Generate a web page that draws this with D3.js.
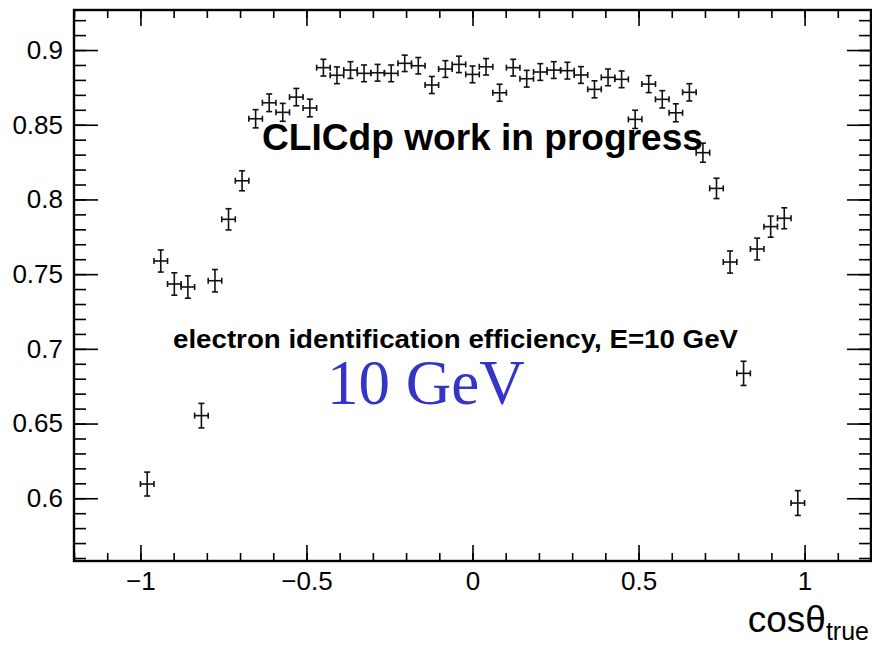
<!DOCTYPE html>
<html>
<head>
<meta charset="utf-8">
<script src="https://cdn.jsdelivr.net/npm/d3@7"></script>
<style>
  body { margin: 0; background: #fff; }
  svg { display: block; }
</style>
</head>
<body>
<div id="graph"></div>
<script>
let W = 872, H = 648;
let margin = { left: 74, top: 10, right: 1, bottom: 87 };

// binning: 49 bins in cos(theta) from -1 to 1
let xMin = -1, xMax = 1, nBins = 49;
// efficiency per bin
let eff = [0.6095, 0.7588, 0.7434, 0.7414, 0.6553, 0.7456, 0.7867, 0.8125, 0.854, 0.8647,
  0.8583, 0.8685, 0.8612, 0.8882, 0.8831, 0.8866, 0.8844, 0.8848, 0.8844, 0.8911,
  0.8895, 0.8766, 0.8873, 0.8904, 0.8837, 0.8888, 0.8714, 0.8882, 0.8808, 0.8853,
  0.8866, 0.8862, 0.8833, 0.8737, 0.8817, 0.8804, 0.8536, 0.8772, 0.867, 0.858,
  0.8717, 0.8313, 0.8074, 0.7581, 0.6836, 0.7668, 0.7818, 0.7874, 0.5968];
let effErr = [0.0080, 0.0074, 0.0075, 0.0075, 0.0082, 0.0075, 0.0071, 0.0067, 0.0061, 0.0059,
  0.0060, 0.0058, 0.0059, 0.0056, 0.0056, 0.0056, 0.0056, 0.0056, 0.0056, 0.0055,
  0.0055, 0.0057, 0.0056, 0.0055, 0.0056, 0.0055, 0.0057, 0.0056, 0.0056, 0.0056,
  0.0056, 0.0056, 0.0056, 0.0057, 0.0056, 0.0056, 0.0061, 0.0057, 0.0058, 0.0060,
  0.0058, 0.0064, 0.0068, 0.0074, 0.0081, 0.0073, 0.0071, 0.0070, 0.0083];

let xTicks = [-1, -0.5, 0, 0.5, 1];
let xTickLabels = ["\u22121", "\u22120.5", "0", "0.5", "1"];
let yTicks = [0.6, 0.65, 0.7, 0.75, 0.8, 0.85, 0.9];
let yTickLabels = ["0.6", "0.65", "0.7", "0.75", "0.8", "0.85", "0.9"];

let binW = (xMax - xMin) / nBins;
let data = eff.map(function(d, i) {
  return { c: xMin + (i + 0.5) * binW, v: d, e: effErr[i] };
});

let svg = d3.select("#graph").append("svg")
  .attr("width", W).attr("height", H);

let x = d3.scaleLinear().domain([-1.2, 1.2]).range([margin.left, W - margin.right]);
let y = d3.scaleLinear().domain([0.558, 0.9268]).range([H - margin.bottom, margin.top]);

let fontS = "Liberation Sans, Arial, Helvetica, sans-serif";
let x0 = x.range()[0], x1 = x.range()[1], y0 = y.range()[0], y1 = y.range()[1];

// minor ticks
let xMinor = d3.range(-1.2, 1.2001, 0.1);
let yMinor = d3.range(0.56, 0.9201, 0.01);

function styleAxis(g) {
  g.select(".domain").remove();
  g.selectAll(".tick line").attr("stroke", "#000").attr("stroke-width", 1.6);
}

// bottom
svg.append("g").attr("transform", "translate(0," + y0 + ")")
  .call(d3.axisBottom(x).tickValues(xMinor).tickSize(-8).tickFormat(""))
  .call(styleAxis);
svg.append("g").attr("transform", "translate(0," + y0 + ")")
  .call(d3.axisBottom(x).tickValues(xTicks).tickSize(-16).tickPadding(11)
    .tickFormat(function(d, i) { return xTickLabels[i]; }))
  .call(styleAxis)
  .selectAll("text").attr("font-family", fontS).attr("font-size", 26).attr("fill", "#000");
// top
svg.append("g").attr("transform", "translate(0," + y1 + ")")
  .call(d3.axisTop(x).tickValues(xMinor).tickSize(-8).tickFormat(""))
  .call(styleAxis);
svg.append("g").attr("transform", "translate(0," + y1 + ")")
  .call(d3.axisTop(x).tickValues(xTicks).tickSize(-16).tickFormat(""))
  .call(styleAxis);
// left
svg.append("g").attr("transform", "translate(" + x0 + ",0)")
  .call(d3.axisLeft(y).tickValues(yMinor).tickSize(-12).tickFormat(""))
  .call(styleAxis);
svg.append("g").attr("transform", "translate(" + x0 + ",0)")
  .call(d3.axisLeft(y).tickValues(yTicks).tickSize(-24).tickPadding(11)
    .tickFormat(function(d, i) { return yTickLabels[i]; }))
  .call(styleAxis)
  .selectAll("text").attr("font-family", fontS).attr("font-size", 26).attr("fill", "#000");
// right
svg.append("g").attr("transform", "translate(" + x1 + ",0)")
  .call(d3.axisRight(y).tickValues(yMinor).tickSize(-12).tickFormat(""))
  .call(styleAxis);
svg.append("g").attr("transform", "translate(" + x1 + ",0)")
  .call(d3.axisRight(y).tickValues(yTicks).tickSize(-24).tickFormat(""))
  .call(styleAxis);

// frame
svg.append("rect")
  .attr("x", x0).attr("y", y1)
  .attr("width", x1 - x0).attr("height", y0 - y1)
  .attr("fill", "none").attr("stroke", "#000").attr("stroke-width", 2.4);

// error-bar markers
let cap = 3;
let pts = svg.append("g").attr("stroke", "#111").attr("stroke-width", 1.6).attr("fill", "none");
let pt = pts.selectAll("g").data(data).enter().append("g");
pt.append("line")
  .attr("x1", function(d) { return x(d.c - binW / 2); })
  .attr("x2", function(d) { return x(d.c + binW / 2); })
  .attr("y1", function(d) { return y(d.v); })
  .attr("y2", function(d) { return y(d.v); });
pt.append("line")
  .attr("x1", function(d) { return x(d.c); })
  .attr("x2", function(d) { return x(d.c); })
  .attr("y1", function(d) { return y(d.v - d.e); })
  .attr("y2", function(d) { return y(d.v + d.e); });
// caps
[-1, 1].forEach(function(s) {
  pt.append("line")
    .attr("x1", function(d) { return x(d.c) - cap; })
    .attr("x2", function(d) { return x(d.c) + cap; })
    .attr("y1", function(d) { return y(d.v + s * d.e); })
    .attr("y2", function(d) { return y(d.v + s * d.e); });
  pt.append("line")
    .attr("x1", function(d) { return x(d.c + s * binW / 2); })
    .attr("x2", function(d) { return x(d.c + s * binW / 2); })
    .attr("y1", function(d) { return y(d.v) - cap; })
    .attr("y2", function(d) { return y(d.v) + cap; });
});

// labels
svg.append("text").attr("x", 262).attr("y", 150)
  .attr("font-family", fontS).attr("font-weight", "bold").attr("font-size", 37)
  .attr("textLength", 441).attr("lengthAdjust", "spacingAndGlyphs")
  .attr("fill", "#000").text("CLICdp work in progress");
svg.append("text").attr("x", 173).attr("y", 348)
  .attr("font-family", fontS).attr("font-weight", "bold").attr("font-size", 25)
  .attr("textLength", 565).attr("lengthAdjust", "spacingAndGlyphs")
  .attr("fill", "#000").text("electron identification efficiency, E=10 GeV");
svg.append("text").attr("x", 327).attr("y", 404)
  .attr("font-family", "Liberation Serif, Times New Roman, serif").attr("font-size", 63)
  .attr("fill", "#3434c8").text("10 GeV");

let title = svg.append("text").attr("x", 869).attr("y", 632).attr("text-anchor", "end")
  .attr("font-family", fontS).attr("font-size", 37).attr("fill", "#000");
title.append("tspan").text("cos\u03b8");
title.append("tspan").attr("font-size", 25).attr("dy", 8).text("true");
</script>
</body>
</html>
